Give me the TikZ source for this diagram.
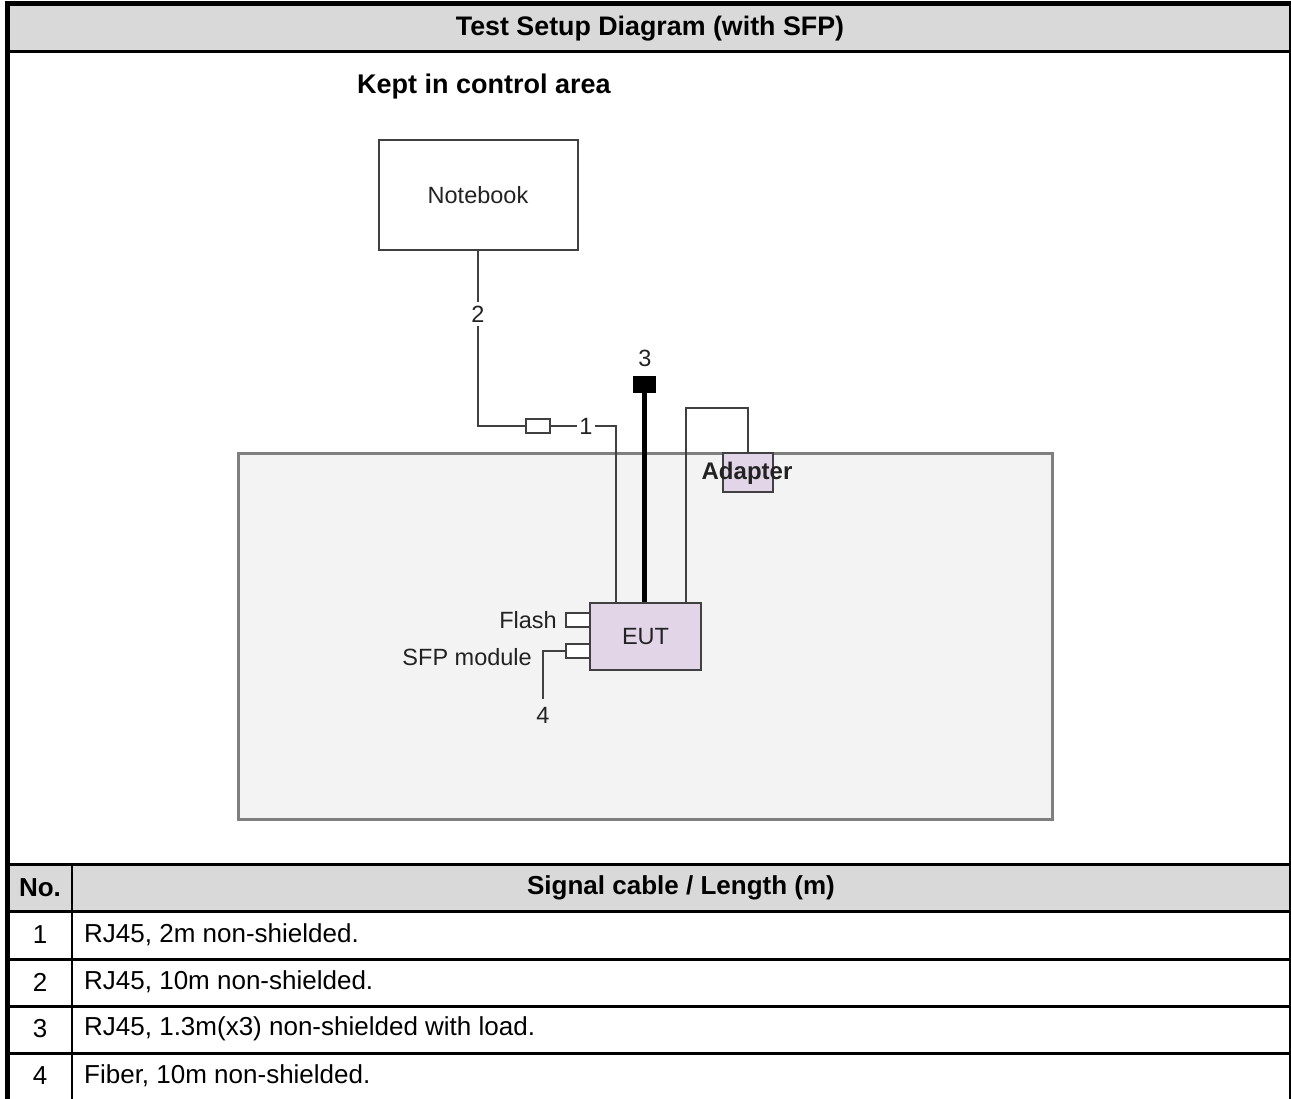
\documentclass[tikz,border=0pt]{standalone}
\usepackage{fontspec}
\setmainfont{Liberation Sans}
\usetikzlibrary{positioning, calc}
\definecolor{Head}{HTML}{D9D9D9}
\definecolor{Area}{HTML}{F3F3F3}
\definecolor{AreaLine}{HTML}{7F7F7F}
\definecolor{Lilac}{HTML}{E1D5E7}
\definecolor{Cable}{HTML}{404040}
\definecolor{Ink}{HTML}{222222}
\tikzset{
    devbox/.style={rectangle, draw=Cable, line width=2pt, inner sep=0pt, text=Ink, font=\fontsize{23.5}{28}\selectfont},
    eutbox/.style={devbox, fill=Lilac},
    port/.style={rectangle, draw=Cable, line width=2pt, fill=white, minimum width=24pt, minimum height=14pt, inner sep=0pt},
    cable/.style={draw=Cable, line width=2pt},
    cablenum/.style={text=Ink, inner xsep=2pt, inner ysep=4pt, font=\fontsize{23.5}{28}\selectfont},
    sidetxt/.style={text=Ink, inner sep=0pt, font=\fontsize{23.5}{28}\selectfont},
    rule/.style={line width=3pt, black},
    headtxt/.style={font=\bfseries\fontsize{26}{30}\selectfont},
    celltxt/.style={font=\fontsize{26}{30}\selectfont},
}

\begin{document}
\begin{tikzpicture}[x=1pt, y=-1pt]
    \useasboundingbox (0,0) rectangle (1291,1099);

    % Riquadri grigi di intestazione
    \fill[Head] (9,6) rectangle (1289,51);
    \fill[Head] (9,865) rectangle (1289,910);
    \node[headtxt, font=\bfseries\fontsize{26.8}{30}\selectfont] (title) at (650,29) {Test Setup Diagram (with SFP)};

    % Area di prova (sfondo)
    \node[rectangle, draw=AreaLine, fill=Area, line width=3pt, minimum width=814pt, minimum height=366pt] (area) at (645,636) {};
    \node[font=\bfseries\fontsize{27}{30}\selectfont] (kept) at (484,87) {Kept in control area};

    % Apparati
    \node[devbox, minimum width=199pt, minimum height=110pt] (nb) at (478,195) {Notebook};
    \node[eutbox, minimum width=111pt, minimum height=67pt] (eut) at (645.5,636.5) {EUT};
    \node[port] (flash) at (578,619.5) {};
    \node[port] (sfp) at (578,651) {};
    \node[sidetxt, anchor=east] (flashtxt) at (557,620) {Flash};
    \node[sidetxt, anchor=east] (sfptxt) at (532,657) {SFP module};

    % Cavo 1 e 2 (verso il notebook)
    \coordinate (c1) at ($(eut.north west)+(27,0)$);
    \node[port] (rj) at (537.5,426) {};
    \node[cablenum] (n1) at (586,426) {1};
    \node[cablenum] (n2) at (478,314) {2};
    \draw[cable] (nb.south) -- (n2.north);
    \draw[cable] (n2.south) |- (rj.west);
    \draw[cable] (rj.east) -- (n1.west);
    \draw[cable] (n1.east) -| (c1);

    % Cavo 3 con carico
    \coordinate (c3) at ($(eut.north west)+(55.5,0)$);
    \node[rectangle, fill=black, minimum width=23pt, minimum height=17pt, inner sep=0pt] (load) at (644.5,384.5) {};
    \node[cablenum] (n3) at (645,358) {3};
    \draw[line width=5pt, black] (load.south) -- (c3);

    % Alimentatore
    \coordinate (c5) at ($(eut.north west)+(97,0)$);
    \coordinate (bend) at (747.5,408);
    \node[rectangle, draw=Cable, line width=2pt, fill=Lilac, minimum width=50pt, minimum height=39pt, inner sep=0pt] (adp) at (747.5,472.5) {};
    \node[font=\bfseries\fontsize{24}{28}\selectfont, text=Ink, inner sep=0pt] (adptxt) at (747,473) {Adapter};
    \draw[cable] (c5) |- (bend) -- (adp.north);

    % Cavo 4 (fibra)
    \node[cablenum] (n4) at (543,715) {4};
    \draw[cable] (sfp.west) -| ([yshift=4pt]n4.north);

    % Tabella dei cavi
    \node[headtxt] (hno) at (40,887.5) {No.};
    \node[headtxt] (hcab) at (681,887.5) {Signal cable / Length (m)};
    \foreach \n/\txt [count=\i] in {1/{RJ45, 2m non-shielded.}, 2/{RJ45, 10m non-shielded.}, 3/{RJ45, 1.3m(x3) non-shielded with load.}, 4/{Fiber, 10m non-shielded.}} {
        \node[celltxt] (no\n) at (40,{935+(\i-1)*47}) {\n};
        \node[celltxt, anchor=west, inner sep=0pt] (cab\n) at (84,{935+(\i-1)*47}) {\txt};
    }

    % Linee della tabella e bordi
    \foreach \y in {52, 864, 911, 959, 1006, 1053} \draw[rule] (7,\y) -- (1290,\y);
    \draw[line width=2pt] (72,864) -- (72,1099);
    \draw[line width=5pt] (7,1) -- (7,1099);
    \draw[line width=5pt] (5,3.5) -- (1291,3.5);
    \draw[line width=2pt] (1290,1) -- (1290,1099);
\end{tikzpicture}
\end{document}
